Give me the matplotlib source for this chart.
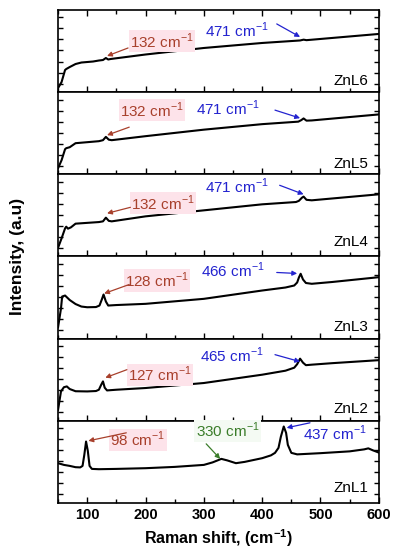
import matplotlib.pyplot as plt
from matplotlib.ticker import MultipleLocator

plt.rcParams['font.family'] = ['Liberation Sans', 'DejaVu Sans']
plt.rcParams['mathtext.fontset'] = 'custom'
plt.rcParams['mathtext.rm'] = 'Liberation Sans'
plt.rcParams['mathtext.bf'] = 'Liberation Sans:bold'

# --- spectra (top panel first), intensity in arbitrary units ---
samples = ["ZnL6", "ZnL5", "ZnL4", "ZnL3", "ZnL2", "ZnL1"]

x_znl6 = [50, 56, 62, 64, 70, 80, 90, 100, 110, 120, 127, 132, 136, 140, 200, 300, 400, 465, 471, 476, 500, 600]
y_znl6 = [4, 10, 22, 23, 25, 28, 29.5, 30, 30.5, 31.5, 32, 34, 32.5, 33, 37.5, 44, 49, 51.5, 52.3, 51.8, 53, 58]

x_znl5 = [50, 56, 62, 64, 70, 80, 100, 120, 127, 132, 137, 142, 200, 300, 400, 462, 467, 471, 476, 485, 600]
y_znl5 = [6, 14, 25, 26, 27, 31, 32, 33, 34, 37.3, 34.5, 34, 38, 44.5, 50, 52.5, 54, 55.7, 53.5, 53.7, 59.7]

x_znl4 = [50, 56, 62, 64, 67, 72, 80, 100, 120, 127, 132, 137, 142, 200, 300, 400, 458, 463, 468, 471, 476, 485, 600]
y_znl4 = [8.7, 18, 28, 29.7, 27.7, 29, 32.7, 33.5, 34.3, 35, 38.7, 35.5, 35, 40, 46, 52, 54.3, 55.5, 58.5, 59.7, 56.5, 56, 62]

x_znl3 = [50, 55, 57, 62, 70, 80, 90, 100, 115, 121, 125, 128, 132, 136, 150, 200, 300, 400, 440, 455, 460, 463, 466, 470, 475, 485, 520, 600]
y_znl3 = [11.3, 30, 42, 43, 38.5, 34.5, 32, 31.3, 31.5, 33, 39, 44, 37, 33, 33.5, 34.7, 39.7, 48, 51, 53, 56, 61, 64.7, 59, 55.5, 54.7, 56.5, 61.3]

x_znl2 = [50, 53, 55, 60, 65, 70, 80, 100, 115, 120, 124, 127, 130, 134, 150, 200, 300, 400, 440, 455, 460, 465, 470, 475, 485, 520, 600]
y_znl2 = [11, 22, 29.3, 33.5, 34.3, 31.7, 29.5, 29.3, 29.7, 31, 36, 39.3, 33, 30.3, 31, 32.7, 37.7, 46, 50, 53, 56.5, 62, 58, 55.5, 56, 57.5, 60.5]

x_znl1 = [50, 60, 70, 80, 88, 92, 95, 98, 101, 104, 108, 120, 150, 200, 250, 300, 315, 330, 340, 355, 370, 400, 415, 422, 428, 432, 437, 441, 444, 450, 460, 500, 550, 575, 582, 590, 600]
y_znl1 = [39.7, 38, 37, 35.7, 35.5, 37, 48, 61.3, 52, 37, 34, 33.7, 34, 34.7, 36, 38, 40.5, 44, 42.5, 39.7, 41, 44.7, 47.5, 50, 55, 66, 76.3, 70, 58, 50, 48.5, 49.7, 51.5, 53.5, 54.5, 52.5, 50.3]

spectra = [(x_znl6, y_znl6), (x_znl5, y_znl5), (x_znl4, y_znl4),
           (x_znl3, y_znl3), (x_znl2, y_znl2), (x_znl1, y_znl1)]

# --- peak annotations per panel: (text, text x, text y, arrow tip x, arrow tip y, kind) ---
red = "#a8402c"
blue = "#2323cf"
green = "#3b7d2a"
pink = "#fde3ea"
lightgreen = "#f4faf3"

peaks = [
    [("132 cm$^{-1}$", 228, 51, 134, 36, "red"), ("471 cm$^{-1}$", 357, 62, 465, 55, "blue")],
    [("132 cm$^{-1}$", 211, 64, 134, 39, "red"), ("471 cm$^{-1}$", 341, 66, 465, 56, "blue")],
    [("132 cm$^{-1}$", 230, 53, 134, 43, "red"), ("471 cm$^{-1}$", 357, 70, 471, 62, "blue")],
    [("128 cm$^{-1}$", 220, 58, 129, 45, "red"), ("466 cm$^{-1}$", 350, 68, 460, 65, "blue")],
    [("127 cm$^{-1}$", 225, 46, 131, 43, "red"), ("465 cm$^{-1}$", 348, 65, 465, 59, "blue")],
    [("98 cm$^{-1}$", 187, 63, 102, 62, "red"), ("330 cm$^{-1}$", 341, 72, 328, 44, "green"),
     ("437 cm$^{-1}$", 525, 69, 442, 75, "blue")],
]
arrow_tails = [
    [(170, 44), (425, 68)],
    [(172, 47), (422, 64)],
    [(174, 49), (430, 71)],
    [(172, 54), (425, 66)],
    [(168, 51), (422, 66)],
    [(167, 70), (304, 59), (482, 80)],
]
label_y = [11, 10, 14, 12, 12, 15]

styles = {"red": (red, pink), "blue": (blue, None), "green": (green, lightgreen)}

fig, axes = plt.subplots(6, 1, figsize=(3.95, 5.5), dpi=100, sharex=True)
fig.subplots_adjust(left=0.147, right=0.959, top=0.982, bottom=0.0855, hspace=0)

for i, ax in enumerate(axes):
    xs, ys = spectra[i]
    ax.plot(xs, ys, color="black", lw=1.5)
    ax.set_xlim(50, 600)
    ax.set_ylim(0, 82)
    ax.set_yticks([8.5, 19.5, 30.5, 41.5, 52.5, 63.5, 74.5])
    ax.set_yticklabels([])
    ax.xaxis.set_major_locator(MultipleLocator(100))
    ax.xaxis.set_minor_locator(MultipleLocator(50))
    ax.tick_params(axis="both", which="both", direction="in", width=1.0,
                   left=True, right=True, bottom=True, top=(i == 0))
    ax.tick_params(axis="x", which="major", length=4.5)
    ax.tick_params(axis="x", which="minor", length=3)
    ax.tick_params(axis="y", length=3.5)
    for sp in ax.spines.values():
        sp.set_linewidth(1.2)

    ax.text(582, label_y[i], samples[i], ha="right", va="center", fontsize=11)

    for (txt, tx, ty, ax_, ay, kind), tail in zip(peaks[i], arrow_tails[i]):
        fc, bg = styles[kind]
        bbox = dict(facecolor=bg, edgecolor="none", pad=1.0) if bg else None
        ax.text(tx, ty, txt, color=fc, ha="center", va="center", fontsize=11,
                bbox=bbox, zorder=3)
        ax.annotate("", xy=(ax_, ay), xytext=tail,
                    arrowprops=dict(arrowstyle="-|>", color=fc, lw=0.9,
                                    mutation_scale=7, shrinkA=0, shrinkB=0),
                    zorder=4)

axes[-1].tick_params(axis="x", labelsize=10.5)
for lab in axes[-1].get_xticklabels():
    lab.set_fontweight("bold")
axes[-1].set_xlabel(r"Raman shift, (cm$^{\mathbf{-1}}$)", fontsize=11.5, fontweight="bold", labelpad=4)
fig.text(0.045, 0.5 + 0.034, "Intensity, (a.u)", rotation=90, ha="center", va="center",
         fontsize=12.5, fontweight="bold")

fig.savefig("out.png", dpi=100)
